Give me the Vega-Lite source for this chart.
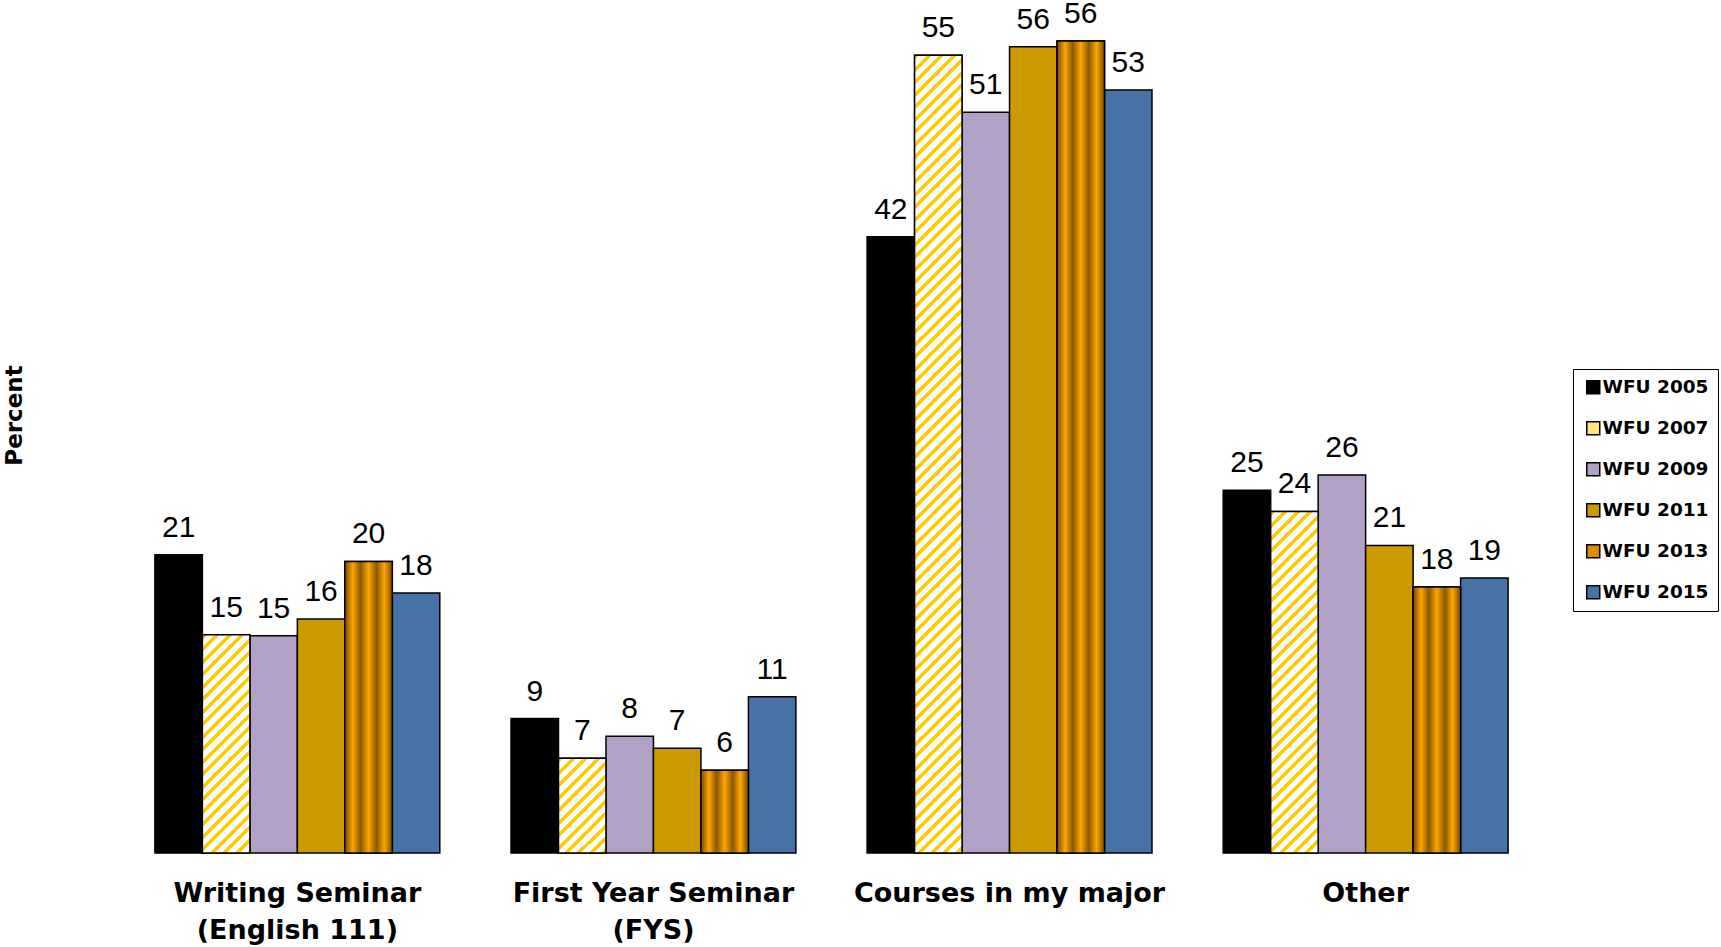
{
"$schema":"https://vega.github.io/schema/vega-lite/v6.json",
"width":1455,"height":841,
"autosize":{"type":"none"},
"padding":{"left":104,"top":12,"right":162,"bottom":94},
"background":"white",
"config":{"view":{"stroke":null}},
"data":{"values":[
{"cat":"Writing Seminar (English 111)","year":"WFU 2005","value":20.57,"label":"21"},
{"cat":"Writing Seminar (English 111)","year":"WFU 2007","value":15.06,"label":"15"},
{"cat":"Writing Seminar (English 111)","year":"WFU 2009","value":14.99,"label":"15"},
{"cat":"Writing Seminar (English 111)","year":"WFU 2011","value":16.14,"label":"16"},
{"cat":"Writing Seminar (English 111)","year":"WFU 2013","value":20.11,"label":"20"},
{"cat":"Writing Seminar (English 111)","year":"WFU 2015","value":17.93,"label":"18"},
{"cat":"First Year Seminar (FYS)","year":"WFU 2005","value":9.27,"label":"9"},
{"cat":"First Year Seminar (FYS)","year":"WFU 2007","value":6.54,"label":"7"},
{"cat":"First Year Seminar (FYS)","year":"WFU 2009","value":8.06,"label":"8"},
{"cat":"First Year Seminar (FYS)","year":"WFU 2011","value":7.22,"label":"7"},
{"cat":"First Year Seminar (FYS)","year":"WFU 2013","value":5.71,"label":"6"},
{"cat":"First Year Seminar (FYS)","year":"WFU 2015","value":10.78,"label":"11"},
{"cat":"Courses in my major","year":"WFU 2005","value":42.5,"label":"42"},
{"cat":"Courses in my major","year":"WFU 2007","value":55.01,"label":"55"},
{"cat":"Courses in my major","year":"WFU 2009","value":51.08,"label":"51"},
{"cat":"Courses in my major","year":"WFU 2011","value":55.61,"label":"56"},
{"cat":"Courses in my major","year":"WFU 2013","value":56.0,"label":"56"},
{"cat":"Courses in my major","year":"WFU 2015","value":52.62,"label":"53"},
{"cat":"Other","year":"WFU 2005","value":25.01,"label":"25"},
{"cat":"Other","year":"WFU 2007","value":23.56,"label":"24"},
{"cat":"Other","year":"WFU 2009","value":26.07,"label":"26"},
{"cat":"Other","year":"WFU 2011","value":21.21,"label":"21"},
{"cat":"Other","year":"WFU 2013","value":18.34,"label":"18"},
{"cat":"Other","year":"WFU 2015","value":18.97,"label":"19"}
]},
"encoding":{
"x":{"field":"cat","type":"nominal","sort":["Writing Seminar (English 111)","First Year Seminar (FYS)","Courses in my major","Other"],"scale":{"domain":["Writing Seminar (English 111)","First Year Seminar (FYS)","Courses in my major","Other"],"paddingInner":0.2,"paddingOuter":0.143},
"axis":{"title":null,"domain":false,"ticks":false,"grid":false,"labelAngle":0,"labelFont":"DejaVu Sans","labelFontWeight":"bold","labelFontSize":27,"labelColor":"black","labelPadding":27,"labelLineHeight":37,"labelLimit":500,"labelBaseline":"top","labelExpr":"datum.value === 'Writing Seminar (English 111)' ? ['Writing Seminar', '(English 111)'] : datum.value === 'First Year Seminar (FYS)' ? ['First Year Seminar', '(FYS)'] : datum.label"}},
"xOffset":{"field":"year","type":"nominal","sort":["WFU 2005","WFU 2007","WFU 2009","WFU 2011","WFU 2013","WFU 2015"],"scale":{"domain":["WFU 2005","WFU 2007","WFU 2009","WFU 2011","WFU 2013","WFU 2015"],"paddingInner":0,"paddingOuter":0}},
"y":{"field":"value","type":"quantitative","scale":{"domain":[0,58],"nice":false},
"axis":{"title":"Percent","labels":false,"ticks":false,"domain":false,"grid":false,"titleFont":"DejaVu Sans","titleFontWeight":"bold","titleFontSize":23,"titleColor":"black","titleX":-82.6,"titleY":403,"titleBaseline":"alphabetic","titleAngle":-90,"titleAlign":"center"}}
},
"layer":[
{"mark":{"type":"bar","stroke":"black","strokeWidth":1.5},
"encoding":{"fill":{"field":"year","type":"nominal",
"scale":{"domain":["WFU 2005","WFU 2007","WFU 2009","WFU 2011","WFU 2013","WFU 2015"],"range":["#000000","#FFE480","#B2A1C7","#CC9A00","#D98E00","#4672A8"]},
"legend":{"title":null,"orient":"none","legendX":1469,"legendY":357,"strokeColor":"black","padding":9,"rowPadding":21,"symbolOffset":2,"symbolType":"square","symbolSize":169,"symbolStrokeColor":"black","symbolStrokeWidth":1.5,"labelFont":"DejaVu Sans","labelFontWeight":"bold","labelFontSize":18.5,"labelColor":"black","labelOffset":0,"labelLimit":300}}}},
{"transform":[{"filter":"datum.year === 'WFU 2013'"}],
"mark":{"type":"bar","stroke":"black","strokeWidth":1.5,"fill":{"gradient":"linear","x1":0,"y1":0,"x2":1,"y2":0,"stops":[{"offset":0,"color":"#7A4A00"},{"offset":0.17,"color":"#FFA600"},{"offset":0.33,"color":"#8A5800"},{"offset":0.5,"color":"#FFA600"},{"offset":0.67,"color":"#8A5800"},{"offset":0.83,"color":"#FFA600"},{"offset":1,"color":"#7A4A00"}]}}},
{"transform":[{"filter":"datum.year === 'WFU 2007' && datum.cat === 'Writing Seminar (English 111)'"}],
"mark":{"type":"bar","stroke":"black","strokeWidth":1.5,"fill":{"gradient":"linear","x1":0,"y1":0,"x2":0.2982,"y2":1.3685,"stops":[
{"offset":0,"color":"#FC0"},{"offset":0.016,"color":"#FC0"},{"offset":0.016,"color":"#FFF"},{"offset":0.04,"color":"#FFF"},
{"offset":0.04,"color":"#FC0"},{"offset":0.056,"color":"#FC0"},{"offset":0.056,"color":"#FFF"},{"offset":0.08,"color":"#FFF"},
{"offset":0.08,"color":"#FC0"},{"offset":0.096,"color":"#FC0"},{"offset":0.096,"color":"#FFF"},{"offset":0.12,"color":"#FFF"},
{"offset":0.12,"color":"#FC0"},{"offset":0.136,"color":"#FC0"},{"offset":0.136,"color":"#FFF"},{"offset":0.16,"color":"#FFF"},
{"offset":0.16,"color":"#FC0"},{"offset":0.176,"color":"#FC0"},{"offset":0.176,"color":"#FFF"},{"offset":0.2,"color":"#FFF"},
{"offset":0.2,"color":"#FC0"},{"offset":0.216,"color":"#FC0"},{"offset":0.216,"color":"#FFF"},{"offset":0.24,"color":"#FFF"},
{"offset":0.24,"color":"#FC0"},{"offset":0.256,"color":"#FC0"},{"offset":0.256,"color":"#FFF"},{"offset":0.28,"color":"#FFF"},
{"offset":0.28,"color":"#FC0"},{"offset":0.296,"color":"#FC0"},{"offset":0.296,"color":"#FFF"},{"offset":0.32,"color":"#FFF"},
{"offset":0.32,"color":"#FC0"},{"offset":0.336,"color":"#FC0"},{"offset":0.336,"color":"#FFF"},{"offset":0.36,"color":"#FFF"},
{"offset":0.36,"color":"#FC0"},{"offset":0.376,"color":"#FC0"},{"offset":0.376,"color":"#FFF"},{"offset":0.4,"color":"#FFF"},
{"offset":0.4,"color":"#FC0"},{"offset":0.416,"color":"#FC0"},{"offset":0.416,"color":"#FFF"},{"offset":0.44,"color":"#FFF"},
{"offset":0.44,"color":"#FC0"},{"offset":0.456,"color":"#FC0"},{"offset":0.456,"color":"#FFF"},{"offset":0.48,"color":"#FFF"},
{"offset":0.48,"color":"#FC0"},{"offset":0.496,"color":"#FC0"},{"offset":0.496,"color":"#FFF"},{"offset":0.52,"color":"#FFF"},
{"offset":0.52,"color":"#FC0"},{"offset":0.536,"color":"#FC0"},{"offset":0.536,"color":"#FFF"},{"offset":0.56,"color":"#FFF"},
{"offset":0.56,"color":"#FC0"},{"offset":0.576,"color":"#FC0"},{"offset":0.576,"color":"#FFF"},{"offset":0.6,"color":"#FFF"},
{"offset":0.6,"color":"#FC0"},{"offset":0.616,"color":"#FC0"},{"offset":0.616,"color":"#FFF"},{"offset":0.64,"color":"#FFF"},
{"offset":0.64,"color":"#FC0"},{"offset":0.656,"color":"#FC0"},{"offset":0.656,"color":"#FFF"},{"offset":0.68,"color":"#FFF"},
{"offset":0.68,"color":"#FC0"},{"offset":0.696,"color":"#FC0"},{"offset":0.696,"color":"#FFF"},{"offset":0.72,"color":"#FFF"},
{"offset":0.72,"color":"#FC0"},{"offset":0.736,"color":"#FC0"},{"offset":0.736,"color":"#FFF"},{"offset":0.76,"color":"#FFF"},
{"offset":0.76,"color":"#FC0"},{"offset":0.776,"color":"#FC0"},{"offset":0.776,"color":"#FFF"},{"offset":0.8,"color":"#FFF"},
{"offset":0.8,"color":"#FC0"},{"offset":0.816,"color":"#FC0"},{"offset":0.816,"color":"#FFF"},{"offset":0.84,"color":"#FFF"},
{"offset":0.84,"color":"#FC0"},{"offset":0.856,"color":"#FC0"},{"offset":0.856,"color":"#FFF"},{"offset":0.88,"color":"#FFF"}
]}}},
{"transform":[{"filter":"datum.year === 'WFU 2007' && datum.cat === 'First Year Seminar (FYS)'"}],
"mark":{"type":"bar","stroke":"black","strokeWidth":1.5,"fill":{"gradient":"linear","x1":0,"y1":0,"x2":1.0527,"y2":2.1053,"stops":[
{"offset":0,"color":"#FC0"},{"offset":0.02,"color":"#FC0"},{"offset":0.02,"color":"#FFF"},{"offset":0.05,"color":"#FFF"},
{"offset":0.05,"color":"#FC0"},{"offset":0.07,"color":"#FC0"},{"offset":0.07,"color":"#FFF"},{"offset":0.1,"color":"#FFF"},
{"offset":0.1,"color":"#FC0"},{"offset":0.12,"color":"#FC0"},{"offset":0.12,"color":"#FFF"},{"offset":0.15,"color":"#FFF"},
{"offset":0.15,"color":"#FC0"},{"offset":0.17,"color":"#FC0"},{"offset":0.17,"color":"#FFF"},{"offset":0.2,"color":"#FFF"},
{"offset":0.2,"color":"#FC0"},{"offset":0.22,"color":"#FC0"},{"offset":0.22,"color":"#FFF"},{"offset":0.25,"color":"#FFF"},
{"offset":0.25,"color":"#FC0"},{"offset":0.27,"color":"#FC0"},{"offset":0.27,"color":"#FFF"},{"offset":0.3,"color":"#FFF"},
{"offset":0.3,"color":"#FC0"},{"offset":0.32,"color":"#FC0"},{"offset":0.32,"color":"#FFF"},{"offset":0.35,"color":"#FFF"},
{"offset":0.35,"color":"#FC0"},{"offset":0.37,"color":"#FC0"},{"offset":0.37,"color":"#FFF"},{"offset":0.4,"color":"#FFF"},
{"offset":0.4,"color":"#FC0"},{"offset":0.42,"color":"#FC0"},{"offset":0.42,"color":"#FFF"},{"offset":0.45,"color":"#FFF"},
{"offset":0.45,"color":"#FC0"},{"offset":0.47,"color":"#FC0"},{"offset":0.47,"color":"#FFF"},{"offset":0.5,"color":"#FFF"},
{"offset":0.5,"color":"#FC0"},{"offset":0.52,"color":"#FC0"},{"offset":0.52,"color":"#FFF"},{"offset":0.55,"color":"#FFF"},
{"offset":0.55,"color":"#FC0"},{"offset":0.57,"color":"#FC0"},{"offset":0.57,"color":"#FFF"},{"offset":0.6,"color":"#FFF"}
]}}},
{"transform":[{"filter":"datum.year === 'WFU 2007' && datum.cat === 'Courses in my major'"}],
"mark":{"type":"bar","stroke":"black","strokeWidth":1.5,"fill":{"gradient":"linear","x1":0,"y1":0,"x2":0.07433,"y2":1.2487,"stops":[
{"offset":0,"color":"#FC0"},{"offset":0.005,"color":"#FC0"},{"offset":0.005,"color":"#FFF"},{"offset":0.0125,"color":"#FFF"},
{"offset":0.0125,"color":"#FC0"},{"offset":0.0175,"color":"#FC0"},{"offset":0.0175,"color":"#FFF"},{"offset":0.025,"color":"#FFF"},
{"offset":0.025,"color":"#FC0"},{"offset":0.03,"color":"#FC0"},{"offset":0.03,"color":"#FFF"},{"offset":0.0375,"color":"#FFF"},
{"offset":0.0375,"color":"#FC0"},{"offset":0.0425,"color":"#FC0"},{"offset":0.0425,"color":"#FFF"},{"offset":0.05,"color":"#FFF"},
{"offset":0.05,"color":"#FC0"},{"offset":0.055,"color":"#FC0"},{"offset":0.055,"color":"#FFF"},{"offset":0.0625,"color":"#FFF"},
{"offset":0.0625,"color":"#FC0"},{"offset":0.0675,"color":"#FC0"},{"offset":0.0675,"color":"#FFF"},{"offset":0.075,"color":"#FFF"},
{"offset":0.075,"color":"#FC0"},{"offset":0.08,"color":"#FC0"},{"offset":0.08,"color":"#FFF"},{"offset":0.0875,"color":"#FFF"},
{"offset":0.0875,"color":"#FC0"},{"offset":0.0925,"color":"#FC0"},{"offset":0.0925,"color":"#FFF"},{"offset":0.1,"color":"#FFF"},
{"offset":0.1,"color":"#FC0"},{"offset":0.105,"color":"#FC0"},{"offset":0.105,"color":"#FFF"},{"offset":0.1125,"color":"#FFF"},
{"offset":0.1125,"color":"#FC0"},{"offset":0.1175,"color":"#FC0"},{"offset":0.1175,"color":"#FFF"},{"offset":0.125,"color":"#FFF"},
{"offset":0.125,"color":"#FC0"},{"offset":0.13,"color":"#FC0"},{"offset":0.13,"color":"#FFF"},{"offset":0.1375,"color":"#FFF"},
{"offset":0.1375,"color":"#FC0"},{"offset":0.1425,"color":"#FC0"},{"offset":0.1425,"color":"#FFF"},{"offset":0.15,"color":"#FFF"},
{"offset":0.15,"color":"#FC0"},{"offset":0.155,"color":"#FC0"},{"offset":0.155,"color":"#FFF"},{"offset":0.1625,"color":"#FFF"},
{"offset":0.1625,"color":"#FC0"},{"offset":0.1675,"color":"#FC0"},{"offset":0.1675,"color":"#FFF"},{"offset":0.175,"color":"#FFF"},
{"offset":0.175,"color":"#FC0"},{"offset":0.18,"color":"#FC0"},{"offset":0.18,"color":"#FFF"},{"offset":0.1875,"color":"#FFF"},
{"offset":0.1875,"color":"#FC0"},{"offset":0.1925,"color":"#FC0"},{"offset":0.1925,"color":"#FFF"},{"offset":0.2,"color":"#FFF"},
{"offset":0.2,"color":"#FC0"},{"offset":0.205,"color":"#FC0"},{"offset":0.205,"color":"#FFF"},{"offset":0.2125,"color":"#FFF"},
{"offset":0.2125,"color":"#FC0"},{"offset":0.2175,"color":"#FC0"},{"offset":0.2175,"color":"#FFF"},{"offset":0.225,"color":"#FFF"},
{"offset":0.225,"color":"#FC0"},{"offset":0.23,"color":"#FC0"},{"offset":0.23,"color":"#FFF"},{"offset":0.2375,"color":"#FFF"},
{"offset":0.2375,"color":"#FC0"},{"offset":0.2425,"color":"#FC0"},{"offset":0.2425,"color":"#FFF"},{"offset":0.25,"color":"#FFF"},
{"offset":0.25,"color":"#FC0"},{"offset":0.255,"color":"#FC0"},{"offset":0.255,"color":"#FFF"},{"offset":0.2625,"color":"#FFF"},
{"offset":0.2625,"color":"#FC0"},{"offset":0.2675,"color":"#FC0"},{"offset":0.2675,"color":"#FFF"},{"offset":0.275,"color":"#FFF"},
{"offset":0.275,"color":"#FC0"},{"offset":0.28,"color":"#FC0"},{"offset":0.28,"color":"#FFF"},{"offset":0.2875,"color":"#FFF"},
{"offset":0.2875,"color":"#FC0"},{"offset":0.2925,"color":"#FC0"},{"offset":0.2925,"color":"#FFF"},{"offset":0.3,"color":"#FFF"},
{"offset":0.3,"color":"#FC0"},{"offset":0.305,"color":"#FC0"},{"offset":0.305,"color":"#FFF"},{"offset":0.3125,"color":"#FFF"},
{"offset":0.3125,"color":"#FC0"},{"offset":0.3175,"color":"#FC0"},{"offset":0.3175,"color":"#FFF"},{"offset":0.325,"color":"#FFF"},
{"offset":0.325,"color":"#FC0"},{"offset":0.33,"color":"#FC0"},{"offset":0.33,"color":"#FFF"},{"offset":0.3375,"color":"#FFF"},
{"offset":0.3375,"color":"#FC0"},{"offset":0.3425,"color":"#FC0"},{"offset":0.3425,"color":"#FFF"},{"offset":0.35,"color":"#FFF"},
{"offset":0.35,"color":"#FC0"},{"offset":0.355,"color":"#FC0"},{"offset":0.355,"color":"#FFF"},{"offset":0.3625,"color":"#FFF"},
{"offset":0.3625,"color":"#FC0"},{"offset":0.3675,"color":"#FC0"},{"offset":0.3675,"color":"#FFF"},{"offset":0.375,"color":"#FFF"},
{"offset":0.375,"color":"#FC0"},{"offset":0.38,"color":"#FC0"},{"offset":0.38,"color":"#FFF"},{"offset":0.3875,"color":"#FFF"},
{"offset":0.3875,"color":"#FC0"},{"offset":0.3925,"color":"#FC0"},{"offset":0.3925,"color":"#FFF"},{"offset":0.4,"color":"#FFF"},
{"offset":0.4,"color":"#FC0"},{"offset":0.405,"color":"#FC0"},{"offset":0.405,"color":"#FFF"},{"offset":0.4125,"color":"#FFF"},
{"offset":0.4125,"color":"#FC0"},{"offset":0.4175,"color":"#FC0"},{"offset":0.4175,"color":"#FFF"},{"offset":0.425,"color":"#FFF"},
{"offset":0.425,"color":"#FC0"},{"offset":0.43,"color":"#FC0"},{"offset":0.43,"color":"#FFF"},{"offset":0.4375,"color":"#FFF"},
{"offset":0.4375,"color":"#FC0"},{"offset":0.4425,"color":"#FC0"},{"offset":0.4425,"color":"#FFF"},{"offset":0.45,"color":"#FFF"},
{"offset":0.45,"color":"#FC0"},{"offset":0.455,"color":"#FC0"},{"offset":0.455,"color":"#FFF"},{"offset":0.4625,"color":"#FFF"},
{"offset":0.4625,"color":"#FC0"},{"offset":0.4675,"color":"#FC0"},{"offset":0.4675,"color":"#FFF"},{"offset":0.475,"color":"#FFF"},
{"offset":0.475,"color":"#FC0"},{"offset":0.48,"color":"#FC0"},{"offset":0.48,"color":"#FFF"},{"offset":0.4875,"color":"#FFF"},
{"offset":0.4875,"color":"#FC0"},{"offset":0.4925,"color":"#FC0"},{"offset":0.4925,"color":"#FFF"},{"offset":0.5,"color":"#FFF"},
{"offset":0.5,"color":"#FC0"},{"offset":0.505,"color":"#FC0"},{"offset":0.505,"color":"#FFF"},{"offset":0.5125,"color":"#FFF"},
{"offset":0.5125,"color":"#FC0"},{"offset":0.5175,"color":"#FC0"},{"offset":0.5175,"color":"#FFF"},{"offset":0.525,"color":"#FFF"},
{"offset":0.525,"color":"#FC0"},{"offset":0.53,"color":"#FC0"},{"offset":0.53,"color":"#FFF"},{"offset":0.5375,"color":"#FFF"},
{"offset":0.5375,"color":"#FC0"},{"offset":0.5425,"color":"#FC0"},{"offset":0.5425,"color":"#FFF"},{"offset":0.55,"color":"#FFF"},
{"offset":0.55,"color":"#FC0"},{"offset":0.555,"color":"#FC0"},{"offset":0.555,"color":"#FFF"},{"offset":0.5625,"color":"#FFF"},
{"offset":0.5625,"color":"#FC0"},{"offset":0.5675,"color":"#FC0"},{"offset":0.5675,"color":"#FFF"},{"offset":0.575,"color":"#FFF"},
{"offset":0.575,"color":"#FC0"},{"offset":0.58,"color":"#FC0"},{"offset":0.58,"color":"#FFF"},{"offset":0.5875,"color":"#FFF"},
{"offset":0.5875,"color":"#FC0"},{"offset":0.5925,"color":"#FC0"},{"offset":0.5925,"color":"#FFF"},{"offset":0.6,"color":"#FFF"},
{"offset":0.6,"color":"#FC0"},{"offset":0.605,"color":"#FC0"},{"offset":0.605,"color":"#FFF"},{"offset":0.6125,"color":"#FFF"},
{"offset":0.6125,"color":"#FC0"},{"offset":0.6175,"color":"#FC0"},{"offset":0.6175,"color":"#FFF"},{"offset":0.625,"color":"#FFF"},
{"offset":0.625,"color":"#FC0"},{"offset":0.63,"color":"#FC0"},{"offset":0.63,"color":"#FFF"},{"offset":0.6375,"color":"#FFF"},
{"offset":0.6375,"color":"#FC0"},{"offset":0.6425,"color":"#FC0"},{"offset":0.6425,"color":"#FFF"},{"offset":0.65,"color":"#FFF"},
{"offset":0.65,"color":"#FC0"},{"offset":0.655,"color":"#FC0"},{"offset":0.655,"color":"#FFF"},{"offset":0.6625,"color":"#FFF"},
{"offset":0.6625,"color":"#FC0"},{"offset":0.6675,"color":"#FC0"},{"offset":0.6675,"color":"#FFF"},{"offset":0.675,"color":"#FFF"},
{"offset":0.675,"color":"#FC0"},{"offset":0.68,"color":"#FC0"},{"offset":0.68,"color":"#FFF"},{"offset":0.6875,"color":"#FFF"},
{"offset":0.6875,"color":"#FC0"},{"offset":0.6925,"color":"#FC0"},{"offset":0.6925,"color":"#FFF"},{"offset":0.7,"color":"#FFF"},
{"offset":0.7,"color":"#FC0"},{"offset":0.705,"color":"#FC0"},{"offset":0.705,"color":"#FFF"},{"offset":0.7125,"color":"#FFF"},
{"offset":0.7125,"color":"#FC0"},{"offset":0.7175,"color":"#FC0"},{"offset":0.7175,"color":"#FFF"},{"offset":0.725,"color":"#FFF"},
{"offset":0.725,"color":"#FC0"},{"offset":0.73,"color":"#FC0"},{"offset":0.73,"color":"#FFF"},{"offset":0.7375,"color":"#FFF"},
{"offset":0.7375,"color":"#FC0"},{"offset":0.7425,"color":"#FC0"},{"offset":0.7425,"color":"#FFF"},{"offset":0.75,"color":"#FFF"},
{"offset":0.75,"color":"#FC0"},{"offset":0.755,"color":"#FC0"},{"offset":0.755,"color":"#FFF"},{"offset":0.7625,"color":"#FFF"},
{"offset":0.7625,"color":"#FC0"},{"offset":0.7675,"color":"#FC0"},{"offset":0.7675,"color":"#FFF"},{"offset":0.775,"color":"#FFF"},
{"offset":0.775,"color":"#FC0"},{"offset":0.78,"color":"#FC0"},{"offset":0.78,"color":"#FFF"},{"offset":0.7875,"color":"#FFF"},
{"offset":0.7875,"color":"#FC0"},{"offset":0.7925,"color":"#FC0"},{"offset":0.7925,"color":"#FFF"},{"offset":0.8,"color":"#FFF"},
{"offset":0.8,"color":"#FC0"},{"offset":0.805,"color":"#FC0"},{"offset":0.805,"color":"#FFF"},{"offset":0.8125,"color":"#FFF"},
{"offset":0.8125,"color":"#FC0"},{"offset":0.8175,"color":"#FC0"},{"offset":0.8175,"color":"#FFF"},{"offset":0.825,"color":"#FFF"},
{"offset":0.825,"color":"#FC0"},{"offset":0.83,"color":"#FC0"},{"offset":0.83,"color":"#FFF"},{"offset":0.8375,"color":"#FFF"},
{"offset":0.8375,"color":"#FC0"},{"offset":0.8425,"color":"#FC0"},{"offset":0.8425,"color":"#FFF"},{"offset":0.85,"color":"#FFF"}
]}}},
{"transform":[{"filter":"datum.year === 'WFU 2007' && datum.cat === 'Other'"}],
"mark":{"type":"bar","stroke":"black","strokeWidth":1.5,"fill":{"gradient":"linear","x1":0,"y1":0,"x2":0.19922,"y2":1.4343,"stops":[
{"offset":0,"color":"#FC0"},{"offset":0.01,"color":"#FC0"},{"offset":0.01,"color":"#FFF"},{"offset":0.025,"color":"#FFF"},
{"offset":0.025,"color":"#FC0"},{"offset":0.035,"color":"#FC0"},{"offset":0.035,"color":"#FFF"},{"offset":0.05,"color":"#FFF"},
{"offset":0.05,"color":"#FC0"},{"offset":0.06,"color":"#FC0"},{"offset":0.06,"color":"#FFF"},{"offset":0.075,"color":"#FFF"},
{"offset":0.075,"color":"#FC0"},{"offset":0.085,"color":"#FC0"},{"offset":0.085,"color":"#FFF"},{"offset":0.1,"color":"#FFF"},
{"offset":0.1,"color":"#FC0"},{"offset":0.11,"color":"#FC0"},{"offset":0.11,"color":"#FFF"},{"offset":0.125,"color":"#FFF"},
{"offset":0.125,"color":"#FC0"},{"offset":0.135,"color":"#FC0"},{"offset":0.135,"color":"#FFF"},{"offset":0.15,"color":"#FFF"},
{"offset":0.15,"color":"#FC0"},{"offset":0.16,"color":"#FC0"},{"offset":0.16,"color":"#FFF"},{"offset":0.175,"color":"#FFF"},
{"offset":0.175,"color":"#FC0"},{"offset":0.185,"color":"#FC0"},{"offset":0.185,"color":"#FFF"},{"offset":0.2,"color":"#FFF"},
{"offset":0.2,"color":"#FC0"},{"offset":0.21,"color":"#FC0"},{"offset":0.21,"color":"#FFF"},{"offset":0.225,"color":"#FFF"},
{"offset":0.225,"color":"#FC0"},{"offset":0.235,"color":"#FC0"},{"offset":0.235,"color":"#FFF"},{"offset":0.25,"color":"#FFF"},
{"offset":0.25,"color":"#FC0"},{"offset":0.26,"color":"#FC0"},{"offset":0.26,"color":"#FFF"},{"offset":0.275,"color":"#FFF"},
{"offset":0.275,"color":"#FC0"},{"offset":0.285,"color":"#FC0"},{"offset":0.285,"color":"#FFF"},{"offset":0.3,"color":"#FFF"},
{"offset":0.3,"color":"#FC0"},{"offset":0.31,"color":"#FC0"},{"offset":0.31,"color":"#FFF"},{"offset":0.325,"color":"#FFF"},
{"offset":0.325,"color":"#FC0"},{"offset":0.335,"color":"#FC0"},{"offset":0.335,"color":"#FFF"},{"offset":0.35,"color":"#FFF"},
{"offset":0.35,"color":"#FC0"},{"offset":0.36,"color":"#FC0"},{"offset":0.36,"color":"#FFF"},{"offset":0.375,"color":"#FFF"},
{"offset":0.375,"color":"#FC0"},{"offset":0.385,"color":"#FC0"},{"offset":0.385,"color":"#FFF"},{"offset":0.4,"color":"#FFF"},
{"offset":0.4,"color":"#FC0"},{"offset":0.41,"color":"#FC0"},{"offset":0.41,"color":"#FFF"},{"offset":0.425,"color":"#FFF"},
{"offset":0.425,"color":"#FC0"},{"offset":0.435,"color":"#FC0"},{"offset":0.435,"color":"#FFF"},{"offset":0.45,"color":"#FFF"},
{"offset":0.45,"color":"#FC0"},{"offset":0.46,"color":"#FC0"},{"offset":0.46,"color":"#FFF"},{"offset":0.475,"color":"#FFF"},
{"offset":0.475,"color":"#FC0"},{"offset":0.485,"color":"#FC0"},{"offset":0.485,"color":"#FFF"},{"offset":0.5,"color":"#FFF"},
{"offset":0.5,"color":"#FC0"},{"offset":0.51,"color":"#FC0"},{"offset":0.51,"color":"#FFF"},{"offset":0.525,"color":"#FFF"},
{"offset":0.525,"color":"#FC0"},{"offset":0.535,"color":"#FC0"},{"offset":0.535,"color":"#FFF"},{"offset":0.55,"color":"#FFF"},
{"offset":0.55,"color":"#FC0"},{"offset":0.56,"color":"#FC0"},{"offset":0.56,"color":"#FFF"},{"offset":0.575,"color":"#FFF"},
{"offset":0.575,"color":"#FC0"},{"offset":0.585,"color":"#FC0"},{"offset":0.585,"color":"#FFF"},{"offset":0.6,"color":"#FFF"},
{"offset":0.6,"color":"#FC0"},{"offset":0.61,"color":"#FC0"},{"offset":0.61,"color":"#FFF"},{"offset":0.625,"color":"#FFF"},
{"offset":0.625,"color":"#FC0"},{"offset":0.635,"color":"#FC0"},{"offset":0.635,"color":"#FFF"},{"offset":0.65,"color":"#FFF"},
{"offset":0.65,"color":"#FC0"},{"offset":0.66,"color":"#FC0"},{"offset":0.66,"color":"#FFF"},{"offset":0.675,"color":"#FFF"},
{"offset":0.675,"color":"#FC0"},{"offset":0.685,"color":"#FC0"},{"offset":0.685,"color":"#FFF"},{"offset":0.7,"color":"#FFF"},
{"offset":0.7,"color":"#FC0"},{"offset":0.71,"color":"#FC0"},{"offset":0.71,"color":"#FFF"},{"offset":0.725,"color":"#FFF"},
{"offset":0.725,"color":"#FC0"},{"offset":0.735,"color":"#FC0"},{"offset":0.735,"color":"#FFF"},{"offset":0.75,"color":"#FFF"},
{"offset":0.75,"color":"#FC0"},{"offset":0.76,"color":"#FC0"},{"offset":0.76,"color":"#FFF"},{"offset":0.775,"color":"#FFF"},
{"offset":0.775,"color":"#FC0"},{"offset":0.785,"color":"#FC0"},{"offset":0.785,"color":"#FFF"},{"offset":0.8,"color":"#FFF"}
]}}},
{"mark":{"type":"text","font":"Liberation Sans","fontSize":30,"baseline":"alphabetic","dy":-18,"fill":"black"},
"encoding":{"text":{"field":"label","type":"nominal"}}}
]
}
